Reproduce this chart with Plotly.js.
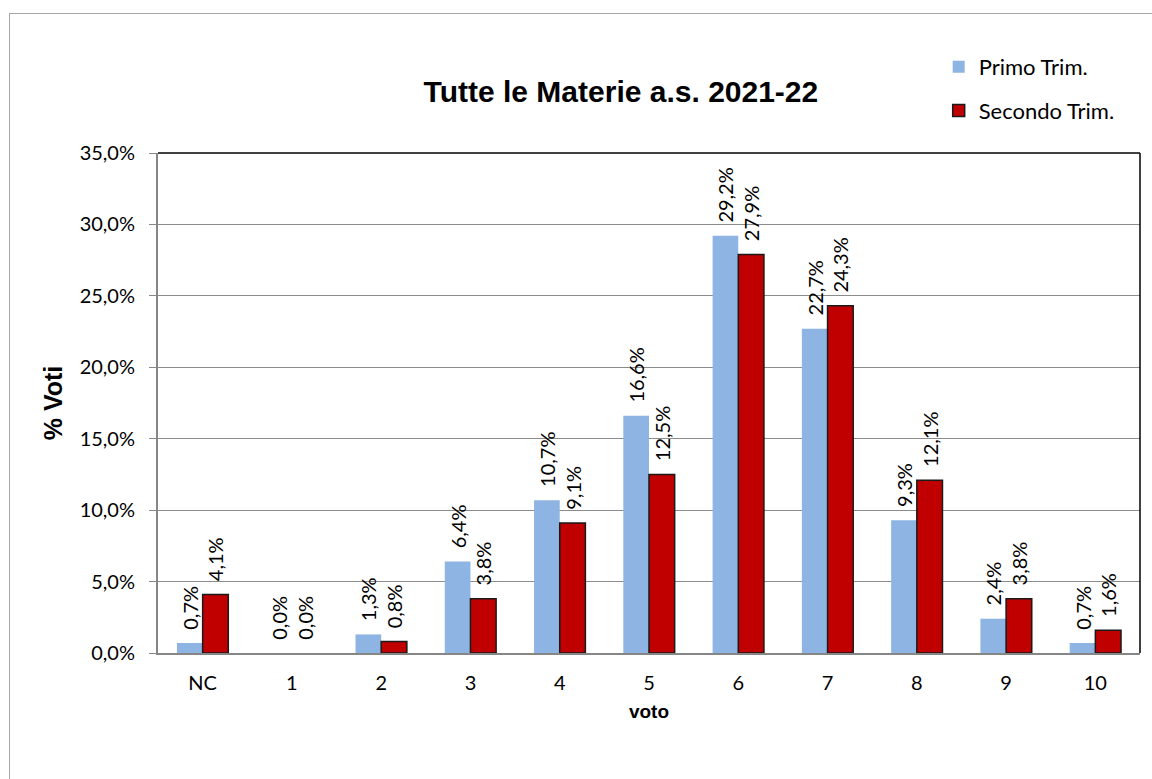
<!DOCTYPE html>
<html>
<head>
<meta charset="utf-8">
<script src="https://cdn.plot.ly/plotly-3.0.1.min.js"></script>
<style>
html,body{margin:0;padding:0;background:#fff;}
#chart{width:1152px;height:779px;position:absolute;left:0;top:0;}
#frame{position:absolute;left:9px;top:13px;width:1200px;height:800px;border-left:1px solid #a6a6a6;border-top:1px solid #a6a6a6;pointer-events:none;}
</style>
</head>
<body>
<div id="chart"></div>
<div id="frame"></div>
<script>
const categories = ["NC","1","2","3","4","5","6","7","8","9","10"];
const primoTrim = [0.7, 0.0, 1.3, 6.4, 10.7, 16.6, 29.2, 22.7, 9.3, 2.4, 0.7];
const secondoTrim = [4.1, 0.0, 0.8, 3.8, 9.1, 12.5, 27.9, 24.3, 12.1, 3.8, 1.6];
const seriesNames = ["Primo Trim.", "Secondo Trim."];
const yTicks = [0, 5, 10, 15, 20, 25, 30, 35];
const yTickText = yTicks.map(v => v.toFixed(1).replace(".", ",") + "%");

const labelFont = {family: "Lato, sans-serif", size: 20, color: "#000"};
const boldFont = "Arial, Liberation Sans, sans-serif";
const labelTemplate = "\u00A0\u00A0%{y:.1f}%";

const traces = [
  {
    type: "bar", name: seriesNames[0], x: categories, y: primoTrim,
    marker: {color: "#8DB4E2", line: {width: 0}},
    texttemplate: labelTemplate, textposition: "outside", textangle: -90,
    constraintext: "none",
    textfont: labelFont, cliponaxis: false, legendgroup: "a", hoverinfo: "x+y"
  },
  {
    type: "bar", name: seriesNames[1], x: categories, y: secondoTrim,
    marker: {color: "#C00000", line: {width: secondoTrim.map(v => v > 0 ? 1.5 : 0), color: "#1a1a1a"}},
    texttemplate: labelTemplate, textposition: "outside", textangle: -90,
    constraintext: "none",
    textfont: labelFont, cliponaxis: false, legendgroup: "b", hoverinfo: "x+y"
  }
];

const layout = {
  width: 1152, height: 779,
  paper_bgcolor: "rgba(0,0,0,0)", plot_bgcolor: "#fff",
  separators: ",.",
  margin: {l: 158, r: 12, t: 153, b: 126},
  font: labelFont,
  barmode: "group", bargap: 0.425, bargroupgap: 0,
  title: {
    text: "<b>Tutte le Materie a.s. 2021-22</b>",
    font: {family: boldFont, size: 30, color: "#000"},
    x: 0.539, xanchor: "center", y: 0.882, yanchor: "middle"
  },
  xaxis: {
    type: "category", showgrid: false, showline: true, linecolor: "#868686", linewidth: 2,
    ticks: "", tickfont: labelFont, ticklabelstandoff: 11,
    title: {text: "<b>voto</b>", font: {family: boldFont, size: 19, color: "#000"}, standoff: 12}
  },
  yaxis: {
    range: [0, 35], tickmode: "array", tickvals: yTicks, ticktext: yTickText,
    showgrid: true, gridcolor: "#8c8c8c", gridwidth: 1,
    showline: true, linecolor: "#868686", linewidth: 2,
    ticks: "outside", ticklen: 7, tickcolor: "#868686", tickwidth: 1,
    tickfont: labelFont, zeroline: false, ticklabelstandoff: 10,
    title: {text: "<b>% Voti</b>", font: {family: boldFont, size: 25, color: "#000"}, standoff: 10}
  },
  showlegend: true,
  legend: {
    x: 0.795, xanchor: "left", y: 1.214, yanchor: "top",
    font: {family: "Lato, sans-serif", size: 22, color: "#000"},
    traceorder: "grouped", tracegroupgap: 12,
    bgcolor: "rgba(0,0,0,0)", itemwidth: 30
  },
  shapes: [
    {type: "line", xref: "paper", yref: "paper", x0: 0, x1: 1, y0: 1, y1: 1, line: {color: "#000", width: 1.5}},
    {type: "line", xref: "paper", yref: "paper", x0: 1, x1: 1, y0: 0, y1: 1, line: {color: "#000", width: 1.5}}
  ]
};

Plotly.newPlot("chart", traces, layout, {displayModeBar: false, staticPlot: true});
</script>
</body>
</html>
